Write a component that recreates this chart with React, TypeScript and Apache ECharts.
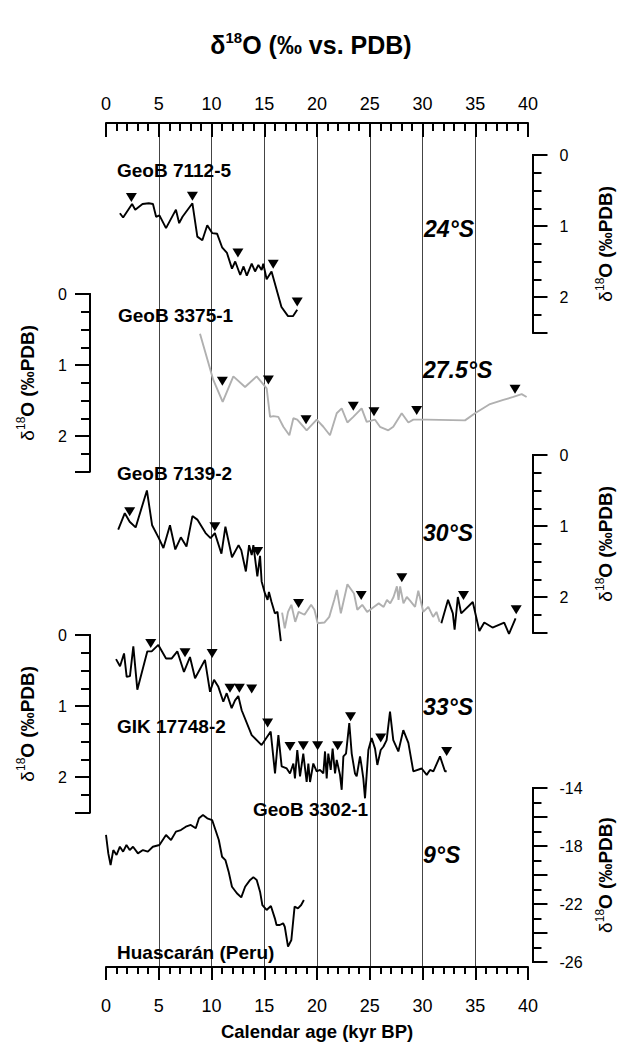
import React, { useEffect, useRef } from 'react';
import * as echarts from 'echarts';

const FONT = '"Liberation Sans", Arial, Helvetica, sans-serif';

// ---------- data (age in kyr BP, δ18O in ‰ PDB) ----------
// GeoB 7112-5 (24°S)
const age7112 = [1.33, 1.64, 2.5, 2.8, 3.5, 4.1, 4.5, 4.8, 5.12, 5.75, 6.7, 7.01, 7.33, 8.28, 8.75, 9.23, 9.7, 10.17, 10.65, 11.12, 11.59, 12.07, 12.38, 12.86, 13.18, 13.49, 13.96, 14.28, 14.6, 14.91, 15.07, 15.39, 15.86, 16.81, 17.44, 17.91, 18.32];
const d18O7112 = [0.82, 0.88, 0.69, 0.77, 0.69, 0.68, 0.69, 0.87, 0.85, 1.03, 0.77, 0.96, 0.87, 0.68, 1.15, 1.2, 0.99, 1.1, 1.11, 1.3, 1.38, 1.6, 1.5, 1.69, 1.57, 1.7, 1.53, 1.64, 1.55, 1.62, 1.53, 1.75, 1.64, 2.14, 2.27, 2.27, 2.18];
const mkAge7112 = [2.43, 8.28, 12.64, 16.02, 18.32];
const mkVal7112 = [0.6, 0.58, 1.38, 1.54, 2.07];

// GeoB 3375-1 (27.5°S)
const age3375 = [8.91, 10.17, 11.06, 12.07, 13.18, 14.28, 15.23, 15.55, 15.86, 16.33, 16.81, 17.38, 17.76, 18.13, 19.02, 19.97, 20.6, 21.23, 21.87, 22.34, 22.88, 23.44, 24.23, 24.71, 25.5, 25.97, 26.76, 27.23, 28.03, 28.66, 29.13, 30.4, 34.03, 34.98, 36.4, 37.66, 38.61, 39.4, 39.87];
const d18O3375 = [0.56, 1.21, 1.52, 1.16, 1.31, 1.16, 1.33, 1.73, 1.72, 1.73, 1.87, 1.99, 1.75, 1.77, 1.92, 1.77, 1.87, 1.99, 1.68, 1.61, 1.81, 1.73, 1.61, 1.8, 1.77, 1.87, 1.92, 1.87, 1.68, 1.81, 1.77, 1.77, 1.78, 1.68, 1.55, 1.49, 1.45, 1.41, 1.45];
const mkAge3375 = [11.03, 15.39, 18.96, 23.44, 25.4, 29.45, 38.77];
const mkVal3375 = [1.23, 1.21, 1.77, 1.58, 1.66, 1.64, 1.34];

// GeoB 7139-2 (30°S)
const age7139a = [1.17, 1.8, 2.27, 2.84, 3.92, 4.42, 5.06, 5.5, 6.13, 6.64, 7.17, 7.71, 8.28, 8.75, 9.54, 10.02, 10.43, 11.06, 11.44, 12.07, 12.7, 12.96, 13.4, 13.71, 13.96, 14.12, 14.5, 14.76, 14.91, 15.23, 15.48, 15.61, 15.86, 16.18, 16.43, 16.59, 16.75];
const d18O7139a = [1.05, 0.82, 0.94, 1.02, 0.5, 0.99, 1.17, 1.31, 0.99, 1.33, 1.16, 1.29, 0.86, 0.91, 1.1, 1.17, 1.1, 1.39, 1.01, 1.44, 1.27, 1.34, 1.64, 1.27, 1.41, 1.27, 1.71, 1.42, 1.78, 1.95, 2.04, 1.93, 2.07, 2.23, 2.21, 2.42, 2.62];
const age7139g = [16.87, 17.13, 17.44, 17.76, 18.13, 18.45, 19.02, 19.65, 19.97, 20.28, 20.92, 21.39, 21.87, 22.12, 22.5, 23.13, 23.76, 24.08, 24.55, 25.02, 25.66, 26.13, 26.6, 26.92, 27.23, 27.55, 27.87, 28.03, 28.18, 28.5, 28.82, 29.13, 29.61, 29.92, 30.4, 30.88, 31.34, 31.66, 31.97];
const d18O7139g = [2.22, 2.44, 2.21, 2.11, 2.35, 2.21, 2.25, 2.11, 2.18, 2.37, 2.36, 2.28, 2.04, 1.9, 2.23, 1.82, 1.95, 2.18, 2.11, 2.21, 2.14, 2.09, 2.14, 2.04, 2.09, 2.0, 1.85, 2.04, 1.85, 2.09, 2.0, 2.05, 2.14, 1.91, 2.21, 2.14, 2.28, 2.21, 2.35];
const age7139b = [32.13, 32.77, 33.23, 33.4, 33.71, 34.03, 35.14, 35.77, 36.24, 37.03, 38.15, 38.61, 39.24];
const d18O7139b = [2.37, 2.04, 2.23, 2.46, 2.0, 2.23, 2.07, 2.48, 2.36, 2.43, 2.36, 2.52, 2.3];
const mkAge7139 = [2.27, 10.43, 14.53, 18.45, 24.45, 28.34, 34.25, 39.3];
const mkVal7139 = [0.8, 1.01, 1.36, 2.09, 1.98, 1.73, 1.98, 2.18];

// GIK 17748-2 / GeoB 3302-1 (33°S)
const age33S = [0.95, 1.33, 1.71, 1.96, 2.27, 2.59, 2.97, 3.92, 4.33, 4.96, 5.69, 6.23, 6.76, 7.39, 7.96, 8.44, 9.38, 9.86, 10.24, 10.65, 11.12, 11.44, 11.91, 12.23, 12.54, 12.86, 13.81, 14.75, 15.07, 15.61, 16.02, 16.34, 16.65, 17.13, 17.44, 17.76, 17.91, 18.13, 18.39, 18.7, 19.02, 19.18, 19.34, 19.65, 19.97, 20.28, 20.6, 20.76, 20.92, 21.07, 21.3, 21.48, 21.71, 21.87, 22.18, 22.34, 22.5, 22.75, 23.06, 23.29, 23.6, 23.76, 24.08, 24.23, 24.39, 24.55, 24.87, 25.18, 25.5, 25.72, 26.04, 26.3, 26.6, 26.92, 27.23, 27.71, 28.18, 28.66, 29.13, 29.92, 30.4, 30.71, 31.03, 31.66, 32.13, 32.29];
const d18O33S = [0.34, 0.44, 0.26, 0.59, 0.58, 0.16, 0.77, 0.23, 0.23, 0.14, 0.33, 0.33, 0.23, 0.52, 0.31, 0.61, 0.35, 0.8, 0.63, 0.73, 0.94, 0.82, 1.03, 0.92, 0.86, 1.06, 1.41, 1.55, 1.48, 1.36, 1.95, 1.41, 1.85, 1.88, 1.95, 1.81, 2.02, 1.62, 1.99, 1.67, 2.07, 1.81, 2.07, 1.81, 1.92, 1.9, 1.95, 1.64, 2.02, 1.67, 1.9, 1.6, 1.95, 1.76, 1.97, 2.18, 1.71, 1.67, 1.24, 1.67, 1.95, 1.99, 1.71, 1.85, 2.02, 2.3, 1.62, 1.45, 1.6, 1.83, 1.62, 1.57, 1.48, 1.08, 1.48, 1.64, 1.34, 1.52, 1.92, 1.88, 1.97, 1.9, 1.92, 1.71, 1.92, 1.92];
const mkAge33S = [4.24, 7.49, 10.06, 11.75, 12.64, 13.81, 15.32, 17.44, 18.7, 20.06, 21.96, 23.18, 26.04, 32.29];
const mkVal33S = [0.12, 0.25, 0.26, 0.75, 0.75, 0.76, 1.24, 1.57, 1.56, 1.56, 1.56, 1.15, 1.45, 1.64];

// Huascarán ice core (9°S)
const ageHuas = [0, 0.22, 0.44, 0.7, 1.01, 1.33, 1.64, 1.96, 2.27, 2.59, 3.06, 3.54, 4.01, 4.49, 5.12, 5.75, 6.23, 6.7, 7.17, 7.65, 8.12, 8.6, 8.91, 9.29, 9.7, 10.17, 10.49, 10.81, 11.12, 11.44, 11.75, 12.07, 12.54, 12.96, 13.33, 13.81, 14.12, 14.44, 14.76, 14.98, 15.39, 15.8, 16.18, 16.34, 16.65, 16.97, 17.13, 17.44, 17.76, 18.07, 18.39, 18.7, 18.96];
const d18OHuas = [-17.24, -18.51, -19.31, -18.28, -18.62, -18.05, -18.39, -17.93, -18.28, -18.05, -18.51, -18.28, -18.39, -18.05, -17.93, -17.24, -17.59, -17.01, -16.9, -16.67, -16.55, -16.78, -16.09, -15.86, -16.09, -16.21, -16.9, -17.59, -18.74, -18.97, -19.77, -20.81, -21.26, -21.54, -20.81, -20.34, -20.16, -20.34, -21.15, -22.07, -22.41, -22.14, -22.99, -23.45, -23.45, -23.33, -23.57, -24.94, -24.48, -22.18, -22.3, -22.07, -21.72];

// axis ranges / ticks
const X_MIN = 0;
const X_MAX = 40;
const X_INTERVAL = 5;
const MARINE_MIN = 0;
const MARINE_MAX = 2.5;
const HUAS_MIN = -26;
const HUAS_MAX = -14;

const zip = (a: number[], b: number[]) => a.map((x, i) => [x, b[i]]);

const AXIS_NAME = '{d|δ}{s|18}{o|O (‰PDB)}';
const nameRich = {
  d: { fontFamily: FONT, fontSize: 19, fontWeight: 'normal', color: '#000', lineHeight: 24 },
  s: { fontFamily: FONT, fontSize: 12, fontWeight: 'normal', color: '#000', verticalAlign: 'top', lineHeight: 24 },
  o: { fontFamily: FONT, fontSize: 19, fontWeight: 'bold', color: '#000', lineHeight: 24 },
};

export default function App() {
  const ref = useRef<HTMLDivElement>(null);

  useEffect(() => {
    if (!ref.current) return;
    const chart = echarts.init(ref.current, undefined, { renderer: 'svg' });

    const LEFT = 106;
    const RIGHT = 95;
    const panels = [
      { top: 155, height: 177.5, side: 'right', min: MARINE_MIN, max: MARINE_MAX, inverse: true },
      { top: 294, height: 177.5, side: 'left', min: MARINE_MIN, max: MARINE_MAX, inverse: true },
      { top: 455, height: 177.5, side: 'right', min: MARINE_MIN, max: MARINE_MAX, inverse: true },
      { top: 635, height: 177.5, side: 'left', min: MARINE_MIN, max: MARINE_MAX, inverse: true },
      { top: 788, height: 174, side: 'right', min: HUAS_MIN, max: HUAS_MAX, inverse: false },
    ];

    const grid: any[] = [{ left: LEFT, right: RIGHT, top: 123, height: 845 }];
    panels.forEach((p) => grid.push({ left: LEFT, right: RIGHT, top: p.top, height: p.height }));

    const tickStyle = { color: '#000', width: 2 };

    const xAxis: any[] = [
      {
        gridIndex: 0, type: 'value', position: 'top', min: X_MIN, max: X_MAX, interval: X_INTERVAL,
        axisLine: { show: true, onZero: false, lineStyle: tickStyle },
        axisTick: { show: true, inside: true, length: 14, lineStyle: tickStyle },
        minorTick: { show: true, splitNumber: 5, length: 8, lineStyle: tickStyle },
        axisLabel: { fontSize: 18, color: '#000', margin: 10, fontFamily: FONT },
        splitLine: { show: true, showMinLine: false, showMaxLine: false, lineStyle: { color: '#444', width: 1 } },
      },
      {
        gridIndex: 0, type: 'value', position: 'bottom', min: X_MIN, max: X_MAX, interval: X_INTERVAL,
        axisLine: { show: true, onZero: false, lineStyle: tickStyle },
        axisTick: { show: true, inside: false, length: 13, lineStyle: tickStyle },
        minorTick: { show: true, splitNumber: 5, length: 7, lineStyle: tickStyle },
        axisLabel: { fontSize: 18, color: '#000', margin: 30, fontFamily: FONT },
        splitLine: { show: false },
        name: 'Calendar age (kyr BP)', nameLocation: 'middle', nameGap: 55,
        nameTextStyle: { fontFamily: FONT, fontSize: 18.5, fontWeight: 'bold', color: '#000' },
      },
    ];
    panels.forEach((_, i) => xAxis.push({ gridIndex: i + 1, type: 'value', min: X_MIN, max: X_MAX, show: false }));

    const yAxis: any[] = [{ gridIndex: 0, type: 'value', min: 0, max: 1, show: false }];
    panels.forEach((p, i) => {
      const isH = p.max < 0;
      const offset = p.side === 'left' ? 16 : 9;
      const common = {
        gridIndex: i + 1, type: 'value', min: p.min, max: p.max, inverse: p.inverse,
        position: p.side, offset, splitLine: { show: false },
      };
      // minor ticks axis
      yAxis.push({
        ...common,
        interval: isH ? 1 : 0.25,
        axisLine: { show: true, onZero: false, lineStyle: tickStyle },
        axisTick: { show: true, inside: false, length: 9, lineStyle: tickStyle },
        axisLabel: { show: false },
      });
      // major ticks + labels axis
      yAxis.push({
        ...common,
        interval: isH ? 2 : 1,
        axisLine: { show: true, onZero: false, lineStyle: tickStyle },
        axisTick: { show: true, inside: false, length: 15, lineStyle: tickStyle },
        axisLabel: {
          fontSize: 16, color: '#000', fontFamily: FONT, margin: p.side === 'left' ? 23 : 27,
          formatter: (v: number) => {
            if (isH) return Math.abs((v - HUAS_MIN) % 4) < 1e-6 ? String(v) : '';
            return Math.abs(v - Math.round(v)) < 1e-6 ? String(Math.round(v)) : '';
          },
        },
        name: AXIS_NAME, nameLocation: 'middle', nameRotate: 90,
        nameGap: p.side === 'left' ? 51 : 61,
        nameTextStyle: { rich: nameRich, fontFamily: FONT, fontSize: 19, color: '#000' },
      });
    });

    // panel k (1..5): xAxisIndex k+1, major yAxisIndex 2k
    const lineSeries = (panel: number, data: number[][], color: string) => ({
      type: 'line', xAxisIndex: panel + 1, yAxisIndex: panel * 2,
      data, symbol: 'none', showSymbol: false, clip: false, z: 3,
      lineStyle: { color, width: 1.9 },
    });
    const markSeries = (panel: number, data: number[][]) => ({
      type: 'scatter', xAxisIndex: panel + 1, yAxisIndex: panel * 2,
      data, symbol: 'triangle', symbolRotate: 180, symbolSize: [11, 9], clip: false, z: 4,
      itemStyle: { color: '#000', opacity: 1 },
    });

    const series: any[] = [
      lineSeries(1, zip(age7112, d18O7112), '#000'),
      markSeries(1, zip(mkAge7112, mkVal7112)),
      lineSeries(2, zip(age3375, d18O3375), '#b0b0b0'),
      markSeries(2, zip(mkAge3375, mkVal3375)),
      lineSeries(3, zip(age7139a, d18O7139a), '#000'),
      lineSeries(3, zip(age7139g, d18O7139g), '#b0b0b0'),
      lineSeries(3, zip(age7139b, d18O7139b), '#000'),
      markSeries(3, zip(mkAge7139, mkVal7139)),
      lineSeries(4, zip(age33S, d18O33S), '#000'),
      markSeries(4, zip(mkAge33S, mkVal33S)),
      lineSeries(5, zip(ageHuas, d18OHuas), '#000'),
    ];

    const label = (text: string, x: number, y: number, size = 19, italic = false) => ({
      type: 'text', x, y, z: 10,
      style: {
        text, fontFamily: FONT, fontSize: size, fontWeight: 'bold',
        fontStyle: italic ? 'italic' : 'normal', fill: '#000', align: 'left', verticalAlign: 'middle',
      },
    });

    const graphic: any[] = [
      {
        type: 'text', x: 311, y: 45, z: 10,
        style: {
          text: '{d|δ}{s|18}{o|O (‰ vs. PDB)}', align: 'center', verticalAlign: 'middle',
          rich: {
            d: { fontFamily: FONT, fontSize: 25, fontWeight: 'bold', fill: '#000', lineHeight: 30 },
            s: { fontFamily: FONT, fontSize: 15, fontWeight: 'bold', fill: '#000', verticalAlign: 'top', lineHeight: 30 },
            o: { fontFamily: FONT, fontSize: 25, fontWeight: 'bold', fill: '#000', lineHeight: 30 },
          },
        },
      },
      label('GeoB 7112-5', 117, 170),
      label('24°S', 424, 229, 23, true),
      label('GeoB 3375-1', 118, 315),
      label('27.5°S', 423, 370, 23, true),
      label('GeoB 7139-2', 117, 473),
      label('30°S', 423, 533, 23, true),
      label('GIK 17748-2', 117, 726),
      label('33°S', 423, 707, 23, true),
      label('GeoB 3302-1', 253, 809),
      label('9°S', 423, 855, 23, true),
      label('Huascarán (Peru)', 117, 952),
    ];

    chart.setOption({
      animation: false,
      backgroundColor: '#fff',
      grid, xAxis, yAxis, series, graphic,
    });

    return () => chart.dispose();
  }, []);

  return (
    <div
      ref={ref}
      style={{ position: 'fixed', left: 0, top: 0, width: 623, height: 1046, background: '#fff' }}
    />
  );
}
